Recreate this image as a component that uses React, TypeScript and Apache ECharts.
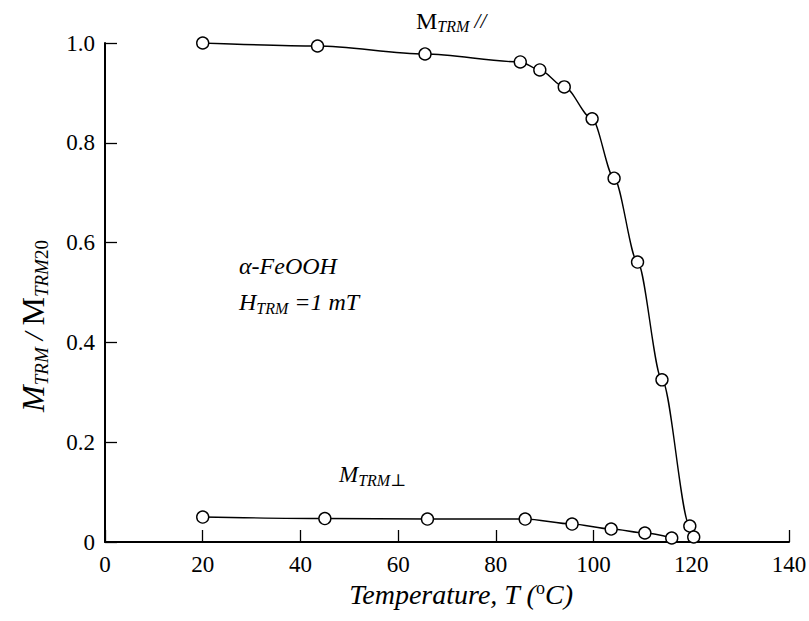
import React, { useEffect, useRef } from "react";
import * as echarts from "echarts";

const parallelSeries: [number, number][] = [
  [20, 1.0], [43.5, 0.994], [65.5, 0.978], [85, 0.962], [89, 0.946], [94, 0.912],
  [99.7, 0.848], [104.2, 0.729], [109, 0.561], [114, 0.325], [119.7, 0.032], [120.5, 0.01],
];
const perpSeries: [number, number][] = [
  [20, 0.05], [45, 0.047], [66, 0.046], [86, 0.046], [95.6, 0.036], [103.6, 0.026],
  [110.5, 0.018], [116, 0.008],
];
const xTicks = { min: 0, max: 140, interval: 20 };
const yTicks = { min: 0, max: 1, interval: 0.2 };

const SERIF = "'Liberation Serif', 'DejaVu Serif', serif";

export default function App() {
  const ref = useRef<HTMLDivElement>(null);
  useEffect(() => {
    document.body.style.margin = "0";
    const chart = echarts.init(ref.current!, null, { renderer: "svg" });
    const sub = (size: number, italic = true) => ({
      fontSize: size, fontStyle: italic ? "italic" : "normal", fontFamily: SERIF,
      lineHeight: size, verticalAlign: "bottom", color: "#000",
    });
    const main = (size: number, italic = true, lh = 30) => ({
      fontSize: size, fontStyle: italic ? "italic" : "normal", fontFamily: SERIF,
      lineHeight: lh, verticalAlign: "middle", color: "#000",
    });
    const seriesStyle = {
      type: "line" as const,
      smooth: 0.3,
      smoothMonotone: "x" as const,
      symbol: "circle",
      symbolSize: 12,
      showSymbol: true,
      itemStyle: { color: "#fff", borderColor: "#000", borderWidth: 1.4 },
      lineStyle: { color: "#000", width: 1.4 },
      z: 3,
    };
    chart.setOption({
      animation: false,
      backgroundColor: "#fff",
      grid: { left: 105, right: 20, top: 43, bottom: 79, containLabel: false, outerBoundsMode: "none" },
      xAxis: {
        type: "value", ...xTicks,
        axisLine: { show: true, lineStyle: { color: "#000", width: 2 } },
        axisTick: { show: true, inside: true, length: 12, lineStyle: { color: "#000", width: 1.3 } },
        axisLabel: { color: "#000", fontFamily: SERIF, fontSize: 23, margin: 11 },
        splitLine: { show: false },
      },
      yAxis: {
        type: "value", ...yTicks,
        axisLine: { show: true, lineStyle: { color: "#000", width: 2 } },
        axisTick: { show: true, inside: true, length: 12, lineStyle: { color: "#000", width: 1.3 } },
        axisLabel: {
          color: "#000", fontFamily: SERIF, fontSize: 23, margin: 10,
          formatter: (v: number) => (v === 0 ? "0" : v.toFixed(1)),
        },
        splitLine: { show: false },
      },
      series: [
        { ...seriesStyle, name: "M_TRM //", data: parallelSeries },
        { ...seriesStyle, name: "M_TRM ⊥", data: perpSeries },
      ],
      graphic: [
        {
          type: "text", left: 416, top: 9,
          style: {
            text: "{m|M}{s|TRM}{n| //}",
            rich: { m: main(24, false, 26), s: sub(16), n: main(21, true, 26) },
          },
        },
        {
          type: "text", left: 239, top: 254,
          style: { text: "{i|α-FeOOH}", rich: { i: main(24, true, 28) } },
        },
        {
          type: "text", left: 239, top: 290,
          style: {
            text: "{i|H}{s|TRM}{i| =1 mT}",
            rich: { i: main(24, true, 28), s: sub(16) },
          },
        },
        {
          type: "text", left: 339, top: 463,
          style: {
            text: "{i|M}{s|TRM}{p|⊥}",
            rich: { i: main(23, true, 28), s: sub(16), p: { ...sub(17, false), lineHeight: 12 } },
          },
        },
        {
          type: "text", x: 461, y: 594,
          style: {
            text: "{i|Temperature, T (}{sup|o}{i|C)}",
            rich: { i: main(28, true, 30), sup: { ...main(18, false, 18), verticalAlign: "top" } },
            align: "center", verticalAlign: "middle",
          },
        },
        {
          type: "text", x: 33, y: 326, rotation: Math.PI / 2,
          style: {
            text: "{mi|M}{si|TRM}{n| / }{m|M}{si|TRM}{s|20}",
            rich: {
              mi: main(32, true, 35), m: main(32, false, 35), n: main(28, true, 35),
              si: sub(19), s: sub(19, false),
            },
            align: "center", verticalAlign: "middle",
          },
        },
      ],
    });
    return () => chart.dispose();
  }, []);
  return <div ref={ref} style={{ width: 809, height: 621 }} />;
}
